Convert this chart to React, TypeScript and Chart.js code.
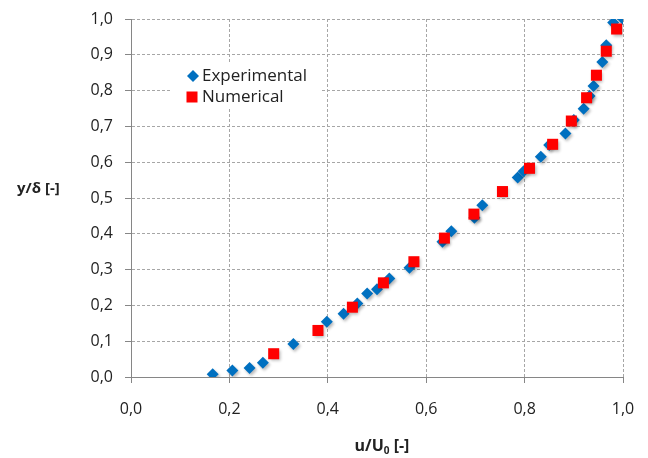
import React, { useEffect, useRef } from "react";
import { Chart, registerables } from "chart.js";

Chart.register(...registerables);

const expX = [0.166, 0.206, 0.241, 0.268, 0.33, 0.398, 0.432, 0.46, 0.48, 0.5, 0.525, 0.566, 0.633, 0.651, 0.698, 0.714, 0.786, 0.798, 0.833, 0.85, 0.883, 0.9, 0.92, 0.932, 0.94, 0.958, 0.966, 0.98, 1.0];
const expY = [0.008, 0.018, 0.025, 0.04, 0.092, 0.154, 0.177, 0.205, 0.233, 0.245, 0.275, 0.305, 0.378, 0.407, 0.445, 0.48, 0.557, 0.575, 0.615, 0.648, 0.68, 0.718, 0.749, 0.785, 0.813, 0.88, 0.927, 0.99, 1.0];
const numX = [0.29, 0.38, 0.45, 0.513, 0.575, 0.637, 0.697, 0.755, 0.81, 0.857, 0.895, 0.926, 0.946, 0.966, 0.987];
const numY = [0.065, 0.13, 0.195, 0.263, 0.322, 0.388, 0.455, 0.518, 0.583, 0.65, 0.715, 0.78, 0.843, 0.91, 0.972];

const seriesNames = ["Experimental", "Numerical"];
const xTitleMain = "u/U";
const xTitleSub = "0";
const xTitleTail = " [-]";
const yTitle = "y/\u03b4 [-]";

const BLUE = "#0070C0";
const RED = "#FF0000";
const FONT = "'Open Sans', sans-serif";

export default function App() {
  const ref = useRef<HTMLCanvasElement | null>(null);

  useEffect(() => {
    if (!ref.current) return;
    const fmt = (v: any) => Number(v).toFixed(1).replace(".", ",");

    const shadowPlugin = {
      id: "shadow",
      beforeDatasetsDraw(chart: any) {
        const ctx = chart.ctx;
        ctx.save();
        ctx.shadowColor = "rgba(0,0,0,0.28)";
        ctx.shadowBlur = 3;
        ctx.shadowOffsetX = 1.5;
        ctx.shadowOffsetY = 2;
      },
      afterDatasetsDraw(chart: any) {
        chart.ctx.restore();
      },
    };

    const decor = {
      id: "decor",
      afterDraw(chart: any) {
        const ctx = chart.ctx;
        const ca = chart.chartArea;
        ctx.save();
        ctx.fillStyle = "#ffffff";
        ctx.fillRect(172, 63, 148, 44);
        ctx.fillStyle = BLUE;
        ctx.beginPath();
        const dx = 193, dy = 76, r = 6;
        ctx.moveTo(dx - r, dy);
        ctx.lineTo(dx, dy - r);
        ctx.lineTo(dx + r, dy);
        ctx.lineTo(dx, dy + r);
        ctx.closePath();
        ctx.fill();
        ctx.fillStyle = RED;
        ctx.fillRect(192 - 5.5, 97 - 5.5, 11, 11);
        ctx.fillStyle = "#222";
        ctx.font = `17px ${FONT}`;
        ctx.textAlign = "left";
        ctx.textBaseline = "middle";
        ctx.fillText(seriesNames[0], 202, 76);
        ctx.fillText(seriesNames[1], 202, 97);

        ctx.font = `bold 15px ${FONT}`;
        ctx.fillText(yTitle, 17, 189);

        const big = `bold 16px ${FONT}`;
        const small = `bold 10px ${FONT}`;
        ctx.font = big;
        const w1 = ctx.measureText(xTitleMain).width;
        const w3 = ctx.measureText(xTitleTail).width;
        ctx.font = small;
        const w2 = ctx.measureText(xTitleSub).width;
        const total = w1 + w2 + w3;
        let x = (ca.left + ca.right) / 2 - total / 2 + 5;
        const y = 446;
        ctx.font = big;
        ctx.fillText(xTitleMain, x, y);
        x += w1;
        ctx.font = small;
        ctx.fillText(xTitleSub, x, y + 5);
        x += w2;
        ctx.font = big;
        ctx.fillText(xTitleTail, x, y);
        ctx.restore();
      },
    };

    const chart = new Chart(ref.current, {
      type: "scatter",
      data: {
        datasets: [
          {
            label: seriesNames[1],
            data: numX.map((x, i) => ({ x, y: numY[i] })),
            backgroundColor: RED,
            borderColor: RED,
            borderWidth: 0,
            pointStyle: "rect",
            pointRadius: 7.8,
            order: 0,
          },
          {
            label: seriesNames[0],
            data: expX.map((x, i) => ({ x, y: expY[i] })),
            backgroundColor: BLUE,
            borderColor: BLUE,
            borderWidth: 0,
            pointStyle: "rectRot",
            pointRadius: 6,
            order: 1,
          },
        ],
      },
      options: {
        animation: false,
        responsive: false,
        events: [],
        layout: { padding: { left: 0, top: 19, right: 25, bottom: 0 } },
        plugins: {
          legend: { display: false },
          tooltip: { enabled: false },
        },
        scales: {
          x: {
            type: "linear",
            min: 0,
            max: 1,
            ticks: {
              stepSize: 0.2,
              callback: fmt,
              color: "#222",
              font: { family: FONT, size: 16 },
              padding: 17,
              maxRotation: 0,
            },
            grid: {
              color: "#a6a6a6",
              tickLength: 6,
              tickColor: "#868686",
            },
            border: { display: true, color: "#868686", width: 1, dash: [3, 2] },
            afterFit: (s: any) => {
              s.height = 81;
              s.paddingLeft = 0;
              s.paddingRight = 0;
            },
          },
          y: {
            type: "linear",
            min: 0,
            max: 1,
            ticks: {
              stepSize: 0.1,
              callback: fmt,
              color: "#222",
              font: { family: FONT, size: 16 },
              padding: 12,
            },
            grid: {
              color: "#a6a6a6",
              tickLength: 6,
              tickColor: "#868686",
            },
            border: { display: true, color: "#868686", width: 1, dash: [3, 2] },
            afterFit: (s: any) => {
              s.width = 131;
              s.paddingTop = 0;
              s.paddingBottom = 0;
            },
          },
        },
      },
      plugins: [shadowPlugin, decor],
    } as any);
    return () => chart.destroy();
  }, []);

  return (
    <div style={{ position: "fixed", left: 0, top: 0, width: 648, height: 458, background: "#fff" }}>
      <canvas ref={ref} width={648} height={458} style={{ display: "block" }} />
    </div>
  );
}
